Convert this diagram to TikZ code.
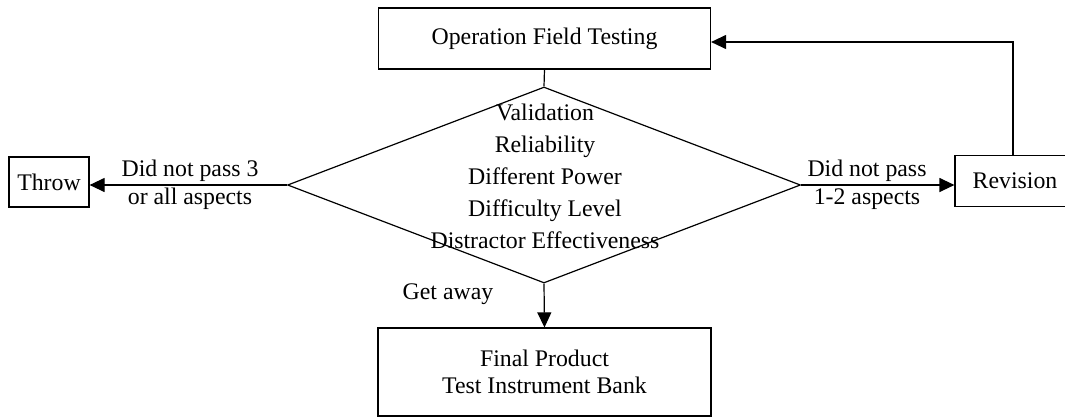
\documentclass[tikz,border=0pt]{standalone}
\usepackage{fontspec}
\setmainfont{Liberation Serif}
\usetikzlibrary{shapes.geometric,arrows.meta}
\begin{document}
\begin{tikzpicture}[x=1pt,y=-1pt,
  every node/.style={font=\fontsize{23.8}{28}\selectfont},
  box/.style={draw,line width=1.2pt,inner sep=0pt,align=center},
  conn/.style={line width=1.2pt},
  arr/.style={conn,-{Triangle[length=15pt,width=14pt]}},
  lbl/.style={align=center,inner sep=0pt}
]
\useasboundingbox (0,0) rectangle (1065,418);
\node[box,minimum width=332,minimum height=61] (oft) at (544.5,38.5) {Operation Field Testing};
\node[draw,diamond,line width=1.2pt,minimum width=513,minimum height=196,inner sep=0pt] (dia) at (544,185) {};
\node[lbl,font=\fontsize{23.8}{32}\selectfont] (dtext) at (545,176) {Validation\\Reliability\\Different Power\\Difficulty Level\\Distractor Effectiveness};
\node[box,minimum width=80,minimum height=50] (throw) at (49,182) {Throw};
\node[box,minimum width=120,minimum height=51] (rev) at (1015,181) {Revision};
\node[box,minimum width=333,minimum height=88,font=\fontsize{23.8}{27}\selectfont] (fin) at (544.5,372) {Final Product\\Test Instrument Bank};
\node[lbl] (l1) at (190,185) {Did not pass 3\\or all aspects};
\node[lbl] (l2) at (867,185) {Did not pass\\1-2 aspects};
\node[lbl] (ga) at (448,294) {Get away};
\coordinate (loop) at (1013,42);
\draw[conn] (oft.south) -- (dia.north);
\draw[arr] (dia.west) -- (dia.west -| throw.east);
\draw[arr] (dia.east) -- (dia.east -| rev.west);
\draw[arr] (dia.south) -- (fin.north);
\draw[arr] (rev.north -| loop) -- (loop) -- (loop -| oft.east);
\end{tikzpicture}
\end{document}
